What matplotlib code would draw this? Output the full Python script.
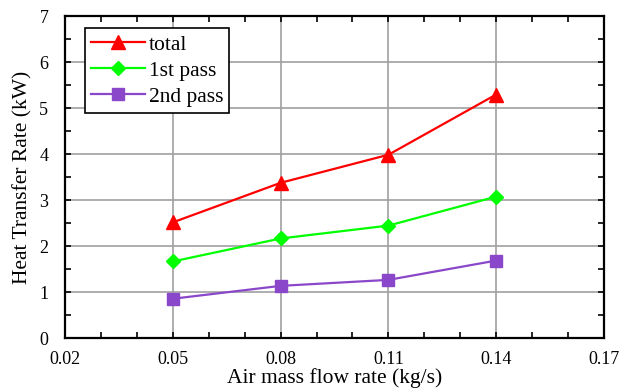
import matplotlib.pyplot as plt
from matplotlib.ticker import FixedLocator, MultipleLocator

flow_rate = [0.05, 0.08, 0.11, 0.14]
total = [2.52, 3.38, 3.99, 5.3]
first_pass = [1.67, 2.17, 2.45, 3.08]
second_pass = [0.86, 1.14, 1.27, 1.69]
x_ticks = [0.02, 0.05, 0.08, 0.11, 0.14, 0.17]

plt.rcParams['font.family'] = ['Liberation Serif', 'DejaVu Serif']

W, H = 621, 390
fig = plt.figure(figsize=(W / 100, H / 100), dpi=100)
ax = fig.add_axes([65 / W, 1 - 338.3 / H, (604 - 65) / W, (338.3 - 16.3) / H])

ax.plot(flow_rate, total, color='#ff0000', marker='^', markersize=10, lw=1.6, label='total')
ax.plot(flow_rate, first_pass, color='#00ff00', marker='D', markersize=7.5, lw=1.6, label='1st pass')
ax.plot(flow_rate, second_pass, color='#8b47c9', marker='s', markersize=8, lw=1.6, label='2nd pass')

ax.set_xlim(0.02, 0.17)
ax.set_ylim(0, 7)
ax.xaxis.set_major_locator(FixedLocator(x_ticks))
ax.set_xticklabels([f'{v:.2f}' for v in x_ticks])
ax.xaxis.set_minor_locator(FixedLocator([v / 100 for v in range(2, 18)]))
ax.yaxis.set_major_locator(MultipleLocator(1))
ax.yaxis.set_minor_locator(MultipleLocator(0.5))

ax.grid(True, which='major', color='#a0a0a0', lw=1.2)
ax.set_axisbelow(True)
ax.tick_params(which='both', direction='in', top=True, right=True, labelsize=13,
               width=1.2, length=4, pad=12)
ax.tick_params(axis='x', which='both', pad=9.5)
for s in ax.spines.values():
    s.set_linewidth(1.6)

ax.set_xlabel('Air mass flow rate (kg/s)', fontsize=15.5, labelpad=0)
ax.set_ylabel('Heat Transfer Rate (kW)', fontsize=15.5, labelpad=5)

leg = ax.legend(loc='upper left', bbox_to_anchor=(20 / 539, 1 - 12 / 322), borderaxespad=0,
                fontsize=15.5, fancybox=False, edgecolor='black', framealpha=1,
                handlelength=2.5, borderpad=0.3, labelspacing=0.28, handletextpad=0.15)
leg.get_frame().set_linewidth(1.2)

fig.savefig('out.png', dpi=100)
